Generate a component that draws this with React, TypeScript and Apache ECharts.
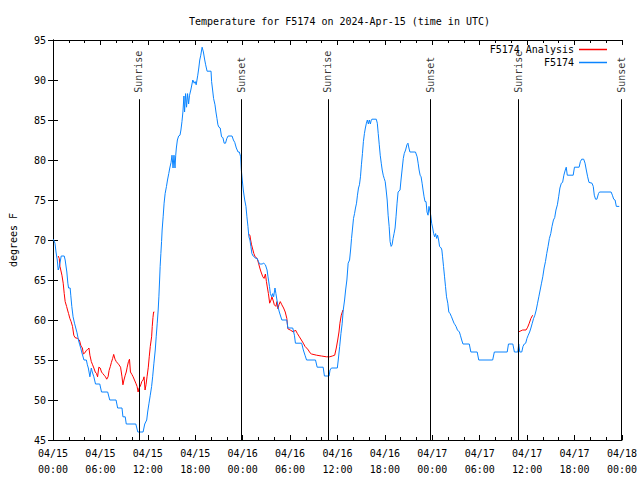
import React, { useEffect, useRef } from "react";
import * as echarts from "echarts";

// hours since 2024-04-15 00:00 UTC, temperature (deg F)
const stationData: [number, number][] = [
  [0.04, 70.1], [0.25, 69.6], [0.38, 68.5], [0.54, 67.5], [0.66, 66.25], [0.79, 66.6], [1.04, 68], [1.42, 68],
  [1.54, 67.5], [1.75, 66], [1.88, 64.6], [1.97, 64], [2.17, 64], [2.25, 63.1], [2.38, 61.7], [2.54, 60.4],
  [2.72, 59.6], [2.88, 59], [3.04, 58.4], [3.22, 57.5], [3.38, 56.9], [3.51, 56.5], [3.63, 56], [3.92, 55],
  [4.22, 55], [4.35, 54.4], [4.47, 54], [4.67, 52.9], [4.85, 54], [4.97, 53.5], [5.17, 52.9], [5.38, 52],
  [5.92, 52], [6.14, 51], [6.92, 51], [7.18, 50], [7.98, 50], [8.18, 49], [8.73, 49], [8.85, 47.9],
  [9.14, 47.9], [9.27, 47], [10.48, 47], [10.73, 46], [11.4, 46], [11.61, 47], [11.86, 47.5], [11.98, 48.5],
  [12.15, 49.6], [12.31, 50.6], [12.48, 51.7], [12.61, 52.9], [12.77, 54.6], [12.94, 56.25], [13.06, 57.9], [13.19, 59.6],
  [13.31, 61.25], [13.4, 62.9], [13.49, 65], [13.56, 66.7], [13.65, 68.3], [13.74, 69.8], [13.81, 71.25], [13.94, 72.9],
  [14.06, 74.6], [14.19, 75.8], [14.36, 76.7], [14.49, 77.5], [14.65, 78.3], [14.78, 79], [14.94, 79.7], [15.06, 80.6],
  [15.19, 79], [15.31, 80.6], [15.44, 79], [15.53, 80.6], [15.61, 81.5], [15.74, 82.5], [15.9, 83], [16.07, 83.1],
  [16.19, 83.75], [16.32, 84.8], [16.44, 86], [16.57, 88], [16.65, 86], [16.78, 88.3], [16.9, 86.6], [17.03, 88.3],
  [17.16, 87], [17.28, 88.1], [17.44, 88.75], [17.69, 90], [17.87, 89.6], [17.99, 89.8], [18.12, 89.4], [18.32, 90.6],
  [18.45, 91.5], [18.57, 92.5], [18.7, 93.1], [18.87, 94.1], [19.03, 93.5], [19.2, 92.5], [19.32, 91.9], [19.5, 91.1],
  [20.0, 91.1], [20.07, 89.8], [20.2, 88.75], [20.32, 87.7], [20.5, 86.9], [20.62, 86], [20.75, 85.2], [20.87, 84.4],
  [21.0, 84.1], [21.16, 84], [21.33, 82.9], [21.5, 82.8], [21.66, 82.1], [21.83, 82.1], [22.0, 82.7], [22.16, 83],
  [22.66, 83], [22.83, 82.5], [23.0, 82.2], [23.2, 81.5], [23.42, 81], [23.58, 81], [23.75, 80.4], [23.83, 78.8],
  [23.95, 77.5], [24.08, 76.25], [24.26, 75], [24.42, 74.2], [24.54, 72.9], [24.67, 71.7], [24.79, 70.4], [24.92, 70],
  [25.04, 69.2], [25.17, 68.3], [25.33, 68], [25.67, 67.7], [25.83, 67.7], [26.01, 67.3], [26.13, 67], [26.46, 67],
  [26.67, 67.1], [26.88, 66.9], [27.09, 66.25], [27.21, 65.4], [27.39, 64.2], [27.51, 63.3], [27.67, 62.9], [27.8, 63.3],
  [27.92, 62.9], [28.09, 64], [28.21, 63.3], [28.34, 62.5], [28.46, 61.7], [28.64, 61], [28.96, 60], [29.59, 60],
  [29.72, 59], [30.34, 59], [30.55, 58.1], [30.68, 57.1], [31.47, 57.1], [31.68, 56.25], [31.89, 55.6], [32.09, 55],
  [33.22, 55], [33.43, 54.1], [34.19, 54.1], [34.35, 53], [34.94, 53], [35.06, 53.75], [35.23, 54], [35.98, 54],
  [36.1, 55], [36.28, 56.7], [36.44, 58.3], [36.6, 59.6], [36.73, 61.25], [36.9, 62.5], [37.03, 63.75], [37.19, 65],
  [37.35, 67.1], [37.53, 67.5], [37.66, 68.75], [37.78, 70.2], [37.91, 71.5], [38.03, 72.7], [38.16, 73.3], [38.28, 74],
  [38.41, 74.6], [38.53, 75.6], [38.66, 76.5], [38.78, 76.9], [38.91, 77.9], [39.03, 79.4], [39.16, 80.8], [39.28, 82.3],
  [39.41, 83.3], [39.53, 84], [39.66, 84.6], [39.78, 85], [39.91, 84.5], [40.03, 85], [40.16, 84.5], [40.28, 85],
  [40.36, 85.1], [40.91, 85.1], [41.04, 84.6], [41.16, 83.3], [41.29, 81.9], [41.41, 80.6], [41.54, 79.6], [41.66, 78.75],
  [41.79, 78.1], [41.91, 77.7], [42.04, 77.3], [42.16, 76.25], [42.29, 75], [42.41, 73.1], [42.54, 71.7], [42.66, 69.8],
  [42.79, 69.2], [42.91, 69.4], [43.04, 70.2], [43.16, 70.8], [43.29, 71.5], [43.41, 72.9], [43.54, 74.6], [43.67, 76],
  [43.92, 76.25], [44.04, 77.5], [44.2, 79], [44.33, 80.2], [44.45, 80.8], [44.62, 81.25], [44.79, 81.9], [44.92, 82.1],
  [45.04, 81.5], [45.17, 81], [45.87, 81], [46.08, 80.4], [46.21, 79.6], [46.33, 78.75], [46.46, 78.1], [46.58, 77.9],
  [46.71, 77.1], [46.83, 76.25], [46.96, 75.4], [47.08, 74.8], [47.21, 74.8], [47.33, 73.5], [47.46, 73.1], [47.58, 74.2],
  [47.8, 73.1], [47.92, 72.1], [48.05, 71.5], [48.17, 70.8], [48.3, 70.4], [48.42, 70.8], [48.55, 70.2], [48.67, 70.6],
  [48.8, 70], [48.92, 69.2], [49.12, 69], [49.21, 68.75], [49.3, 67.9], [49.42, 66.7], [49.55, 65.4], [49.67, 64.2],
  [49.8, 62.9], [49.96, 62.1], [50.09, 61], [50.25, 60.8], [50.43, 60.4], [50.59, 60], [50.75, 59.6], [50.88, 59.4],
  [51.0, 59.2], [51.18, 58.75], [51.43, 58.5], [51.55, 58.1], [51.72, 57.5], [51.88, 57], [52.68, 57], [52.88, 56],
  [53.68, 56], [53.88, 55], [55.64, 55], [55.85, 56], [57.48, 56], [57.64, 57], [58.19, 57], [58.39, 56],
  [58.82, 56], [58.94, 57], [59.07, 56], [59.32, 56], [59.48, 56.7], [59.64, 57], [59.82, 57.1], [59.98, 57.7],
  [60.14, 58.1], [60.32, 58.5], [60.48, 59], [60.65, 59.6], [60.82, 60.2], [60.98, 60.6], [61.15, 61.25], [61.32, 62.1],
  [61.48, 62.9], [61.65, 63.75], [61.82, 64.6], [61.98, 65.4], [62.15, 66.5], [62.32, 67.3], [62.48, 68.3], [62.65, 69.2],
  [62.82, 70.2], [62.99, 70.8], [63.15, 71.7], [63.33, 72.5], [63.49, 72.8], [63.65, 73.75], [63.83, 74.4], [63.99, 75.4],
  [64.15, 76.5], [64.33, 77.1], [64.49, 77.2], [64.65, 78.1], [64.83, 78.75], [64.95, 79.1], [65.08, 78.1], [65.83, 78.1],
  [65.99, 79.1], [66.58, 79.1], [66.74, 79.8], [66.91, 80.1], [67.16, 80.1], [67.33, 79.6], [67.49, 78.75], [67.66, 77.9],
  [67.83, 77.2], [68.21, 77.1], [68.37, 76.7], [68.5, 75.6], [68.66, 75.1], [68.83, 75.1], [69.03, 75.8], [69.16, 76],
  [70.63, 76], [70.79, 75.6], [70.96, 75.1], [71.13, 75], [71.29, 74.2], [71.66, 74.2],
];

const analysisDay1: [number, number][] = [
  [0.66, 68], [0.79, 67.7], [0.88, 66.7], [1.13, 65.6], [1.29, 64.6], [1.42, 63.3], [1.54, 62.3], [1.72, 61.7],
  [1.84, 61.25], [1.97, 60.8], [2.13, 60.2], [2.29, 59.8], [2.47, 59.2], [2.63, 58.1], [2.79, 57.8], [3.09, 57.7],
  [3.34, 57.5], [3.54, 56.75], [3.72, 56.5], [3.84, 55.75], [4.04, 55.9], [4.22, 56.2], [4.38, 56.3], [4.55, 56.5],
  [4.67, 55.6], [4.85, 54.8], [5.01, 54.4], [5.17, 54], [5.35, 53.5], [5.51, 53.3], [5.64, 52.9], [5.8, 54.1],
  [5.97, 54], [6.14, 53.5], [6.3, 53.3], [6.47, 53.1], [6.64, 52.9], [6.8, 52.6], [6.97, 52.9], [7.1, 53.7],
  [7.26, 54.2], [7.39, 54.7], [7.55, 55.2], [7.68, 55.7], [7.85, 55.1], [8.01, 54.8], [8.18, 54.6], [8.35, 54.4],
  [8.55, 54.1], [8.73, 52.9], [8.85, 51.9], [8.98, 52.5], [9.14, 53.1], [9.27, 53.5], [9.39, 54.1], [9.55, 54.8],
  [9.68, 55.1], [9.8, 53.5], [9.98, 53.2], [10.14, 52.9], [10.31, 52.5], [10.48, 52.1], [10.64, 51.7], [10.77, 51],
  [10.89, 51.5], [11.06, 51.75], [11.23, 52.3], [11.4, 52.5], [11.52, 52.9], [11.65, 51.25], [11.77, 51.9], [11.9, 52.9],
  [12.06, 54.1], [12.18, 55.4], [12.31, 56.7], [12.48, 57.9], [12.56, 59.2], [12.65, 60.3], [12.73, 61], [12.83, 61],
];

const analysisDay2: [number, number][] = [
  [24.71, 70.75], [24.92, 70.6], [25.01, 70], [25.13, 69.4], [25.3, 68.75], [25.42, 68.3], [25.58, 67.9], [25.83, 67.7],
  [26.01, 67.1], [26.17, 66.5], [26.33, 66], [26.55, 65.4], [26.71, 65.2], [26.88, 65.75], [27.01, 64.8], [27.14, 64],
  [27.26, 63.3], [27.42, 62.1], [27.59, 62.5], [27.71, 62.9], [27.84, 62.5], [28.01, 61.9], [28.21, 61.7], [28.34, 62.3],
  [28.46, 61.4], [28.59, 61.9], [28.76, 62.3], [28.96, 61.9], [29.18, 61.5], [29.39, 61], [29.59, 60.2], [29.72, 58.9],
  [30.02, 58.75], [30.43, 58.5], [30.68, 58.75], [30.93, 58.3], [31.18, 57.9], [31.43, 57.5], [31.68, 57.1], [31.89, 56.7],
  [32.09, 56.5], [32.31, 56.25], [32.52, 55.9], [32.72, 55.75], [33.35, 55.6], [33.97, 55.5], [34.6, 55.4], [35.02, 55.4],
  [35.35, 55.5], [35.65, 55.6], [35.85, 56.5], [36.03, 57.5], [36.19, 58.5], [36.31, 59.6], [36.48, 60.6], [36.69, 61.25],
];

const analysisDay3: [number, number][] = [
  [58.89, 58.5], [59.11, 58.6], [59.44, 58.75], [59.86, 58.75], [60.07, 59.1], [60.27, 59.6], [60.48, 60.2], [60.7, 60.6],
];

const eventNames = ["Sunrise", "Sunset", "Sunrise", "Sunset", "Sunrise", "Sunset"];
const eventHours = [10.87, 23.84, 34.8, 47.8, 58.86, 71.93];

const FONT = "DejaVu Sans Mono";
const BLUE = "#0a84ff";
const RED = "#ff0000";

export default function App() {
  const ref = useRef<HTMLDivElement>(null);
  useEffect(() => {
    if (!ref.current) return;
    const chart = echarts.init(ref.current, undefined, { renderer: "svg" });
    const xLabel = (v: number) => {
      const day = 15 + Math.floor(v / 24);
      const hh = Math.round(v % 24);
      return `04/${String(day).padStart(2, "0")}\n${String(hh).padStart(2, "0")}:00`;
    };
    const axisBase = {
      axisLine: { show: true, lineStyle: { color: "#000", width: 1 } },
      splitLine: { show: false },
    };
    const analysisSeries = [analysisDay1, analysisDay2, analysisDay3].map((seg) => ({
      name: "F5174 Analysis",
      type: "line",
      data: seg,
      showSymbol: false,
      symbol: "none",
      lineStyle: { color: RED, width: 1 },
      itemStyle: { color: RED },
      xAxisIndex: 0,
      yAxisIndex: 0,
      z: 3,
    }));
    chart.setOption({
      animation: false,
      backgroundColor: "#fff",
      textStyle: { fontFamily: FONT },
      title: {
        text: "Temperature for F5174 on 2024-Apr-15 (time in UTC)",
        left: 334.5,
        textAlign: "center",
        top: 11,
        textStyle: { fontFamily: FONT, fontSize: 10, fontWeight: "normal", color: "#000" },
      },
      legend: {
        data: ["F5174 Analysis", "F5174"],
        orient: "vertical",
        right: 28,
        top: 38,
        align: "right",
        itemWidth: 28,
        itemHeight: 1.5,
        itemGap: 0,
        icon: "rect",
        textStyle: { fontFamily: FONT, fontSize: 10, color: "#000", lineHeight: 13, padding: [0, 0, 0, 0] },
      },
      grid: { left: 47, right: 18, top: 40, bottom: 40, containLabel: false },
      xAxis: [
        {
          ...axisBase,
          type: "value",
          min: 0,
          max: 72,
          interval: 6,
          axisTick: { show: true, inside: true, length: 5, lineStyle: { color: "#000" } },
          minorTick: { show: true, splitNumber: 3, length: 3, lineStyle: { color: "#000" } },
          axisLabel: {
            formatter: xLabel,
            fontFamily: FONT,
            fontSize: 10,
            color: "#000",
            lineHeight: 16,
            margin: 5,
            showMaxLabel: true,
            showMinLabel: true,
          },
        },
        {
          ...axisBase,
          type: "value",
          position: "top",
          min: 0,
          max: 72,
          interval: 6,
          axisTick: { show: true, inside: true, length: 5, lineStyle: { color: "#000" } },
          minorTick: { show: true, splitNumber: 3, length: 3, lineStyle: { color: "#000" } },
          axisLabel: { show: false },
        },
      ],
      yAxis: [
        {
          ...axisBase,
          type: "value",
          min: 45,
          max: 95,
          interval: 5,
          name: "degrees F",
          nameLocation: "middle",
          nameGap: 35,
          nameTextStyle: { fontFamily: FONT, fontSize: 10, color: "#000" },
          axisTick: { show: true, inside: true, length: 5, lineStyle: { color: "#000" } },
          axisLabel: { fontFamily: FONT, fontSize: 10, color: "#000", margin: 7 },
        },
        {
          ...axisBase,
          type: "value",
          position: "right",
          min: 45,
          max: 95,
          interval: 5,
          axisTick: { show: true, inside: true, length: 5, lineStyle: { color: "#000" } },
          axisLabel: { show: false },
        },
      ],
      series: [
        ...analysisSeries,
        {
          name: "F5174",
          type: "line",
          data: stationData,
          showSymbol: false,
          symbol: "none",
          lineStyle: { color: BLUE, width: 1 },
          itemStyle: { color: BLUE },
          z: 4,
        },
        {
          name: "events",
          type: "scatter",
          data: eventHours.map((h, i) => ({ value: [h, 88.4], name: eventNames[i] })),
          symbolSize: 1,
          itemStyle: { color: "rgba(0,0,0,0)" },
          silent: true,
          z: 5,
          label: {
            show: true,
            position: "inside",
            formatter: (p: any) => p.name,
            rotate: 90,
            align: "left",
            verticalAlign: "middle",
            fontFamily: FONT,
            fontSize: 10,
            color: "#000",
          },
          markLine: {
            silent: true,
            symbol: "none",
            label: { show: false },
            lineStyle: { color: "#000", width: 1, type: "solid" },
            data: eventHours.map((h) => [{ coord: [h, 87.6] }, { coord: [h, 45] }]),
          },
        },
      ],
    });
    return () => chart.dispose();
  }, []);
  return (
    <div
      ref={ref}
      style={{ position: "fixed", left: 0, top: 0, width: 640, height: 480, background: "#fff" }}
    />
  );
}
